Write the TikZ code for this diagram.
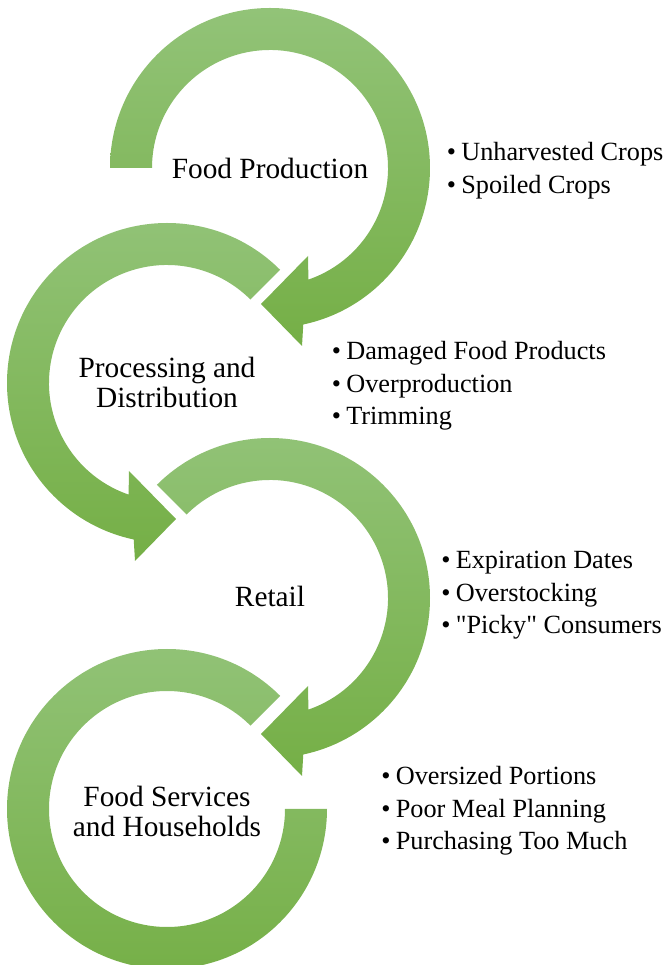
\documentclass[tikz,border=0pt]{standalone}
\usepackage{fontspec}
\setmainfont{Liberation Serif}[Ligatures=TeXOff]
\definecolor{ringtop}{RGB}{146,195,120}
\definecolor{ringbot}{RGB}{117,175,70}
\tikzstyle{ring}=[top color=ringtop,bottom color=ringbot,draw=none]
\tikzstyle{stage}=[align=center,inner sep=0pt,font=\fontsize{22}{22.5}\selectfont]
\tikzstyle{causes}=[align=left,inner sep=0pt,anchor=north west,font=\fontsize{19.7}{24.4}\selectfont]
\newcommand\dotitem{\textbullet\hspace{4pt}}

\begin{document}
\begin{tikzpicture}[x=0.75pt,y=0.75pt]
  \useasboundingbox (0,0) rectangle (666,965);

  % circular arrows, last one first
  \shade[ring,shift={(167,156)}] (45:160) arc[start angle=45,end angle=360,radius=160]
    -- (0:118) arc[start angle=360,end angle=45,radius=118] -- cycle;
  \shade[ring,shift={(270,367)}] (135:160) arc[start angle=135,end angle=-78,radius=160]
    -- (32,-178) -- (-9,-136) -- (38,-88)
    -- (-71:118) arc[start angle=-71,end angle=135,radius=118] -- cycle;
  \shade[ring,shift={(167,582)}] (45:160) arc[start angle=45,end angle=258,radius=160]
    -- (-32,-178) -- (9,-136) -- (-38,-88)
    -- (251:118) arc[start angle=251,end angle=45,radius=118] -- cycle;
  \shade[ring,shift={(270,797)}] (180:160) arc[start angle=180,end angle=-78,radius=160]
    -- (32,-178) -- (-9,-136) -- (38,-88)
    -- (-71:118) arc[start angle=-71,end angle=180,radius=118] -- cycle;

  \node [stage,anchor=base] (prod) at (270,786) {Food Production};
  \node [stage] (proc) at (167,583) {Processing and\\Distribution};
  \node [stage,anchor=base] (ret) at (270,358) {Retail};
  \node [stage] (serv) at (167,154) {Food Services\\and Households};

  \node [causes] (prodc) at (446.5,823) {\dotitem Unharvested Crops\\\dotitem Spoiled Crops};
  \node [causes] (procc) at (331.5,624) {\dotitem Damaged Food Products\\\dotitem Overproduction\\\dotitem Trimming};
  \node [causes] (retc) at (441,414) {\dotitem Expiration Dates\\\dotitem Overstocking\\\dotitem "Picky" Consumers};
  \node [causes] (servc) at (381,199) {\dotitem Oversized Portions\\\dotitem Poor Meal Planning\\\dotitem Purchasing Too Much};
\end{tikzpicture}
\end{document}
